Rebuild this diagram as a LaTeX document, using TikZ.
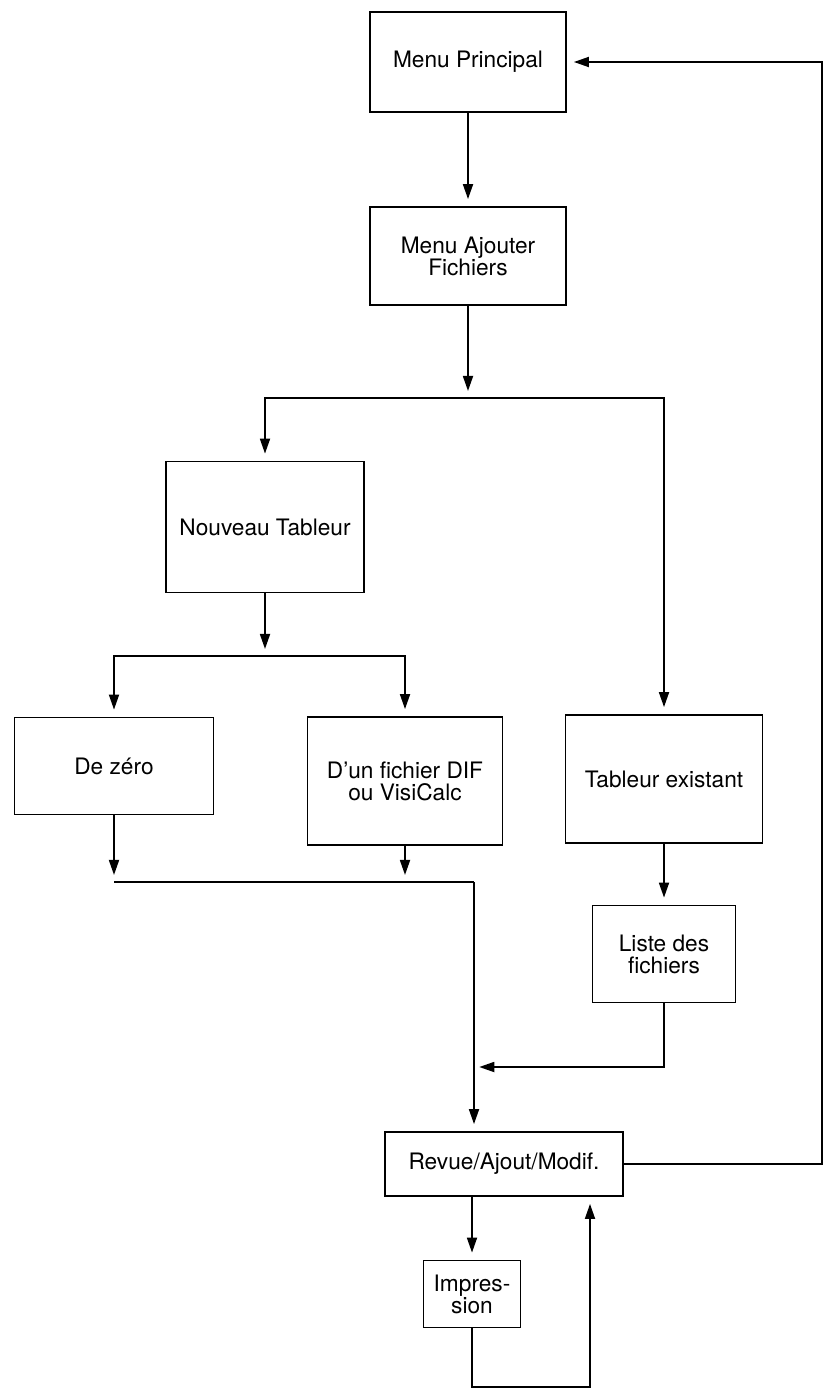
\documentclass[tikz,border=0pt]{standalone}
\usepackage{fontspec}
\setmainfont{TeX Gyre Heros}
\usetikzlibrary{arrows.meta}
\begin{document}
\begin{tikzpicture}[x=0.02cm,y=-0.02cm,line width=1pt,
    box/.style={draw,align=center,inner sep=2pt,font=\fontsize{12.9}{12.5}\selectfont},
    arr/.style={-{Triangle[length=0.3cm,width=0.2cm]},shorten >=4pt}]
  \useasboundingbox (0,0) rectangle (823,1389);
  \node[box,minimum width=3.92cm,minimum height=2cm]    (mp)  at (468,62)   {Menu Principal};
  \node[box,minimum width=3.92cm,minimum height=1.96cm] (maf) at (468,256)  {Menu Ajouter\\Fichiers};
  \node[box,minimum width=3.96cm,minimum height=2.62cm] (nt)  at (265,527)  {Nouveau Tableur};
  \node[box,minimum width=3.98cm,minimum height=1.94cm] (dz)  at (114,766)  {De zéro};
  \node[box,minimum width=3.9cm,minimum height=2.56cm]  (dif) at (405,781)  {D'un fichier DIF\\ou VisiCalc};
  \node[box,minimum width=3.94cm,minimum height=2.56cm] (te)  at (664,779)  {Tableur existant};
  \node[box,minimum width=2.86cm,minimum height=1.94cm] (ldf) at (664,954)  {Liste des\\fichiers};
  \node[box,minimum width=4.76cm,minimum height=1.28cm] (rev) at (504,1164) {Revue/Ajout/Modif.};
  \node[box,minimum width=1.94cm,minimum height=1.34cm] (imp) at (472,1294) {Impres-\\sion};
  \coordinate (s1) at (468,398);
  \coordinate (s2) at (265,656);
  \coordinate (s3) at (474,882);
  \coordinate (s4) at (474,1067);
  \coordinate (s5) at (590,1387);
  \coordinate (ret) at (822,0);
  \draw[arr] (mp) -- (maf);
  \draw[arr] (maf) -- (s1);
  \draw[arr] (s1) -| (nt);
  \draw[arr] (s1) -| (te);
  \draw[arr] (nt) -- (s2);
  \draw[arr] (s2) -| (dz);
  \draw[arr] (s2) -| (dif);
  \draw[arr] (dz) -- (dz |- s3);
  \draw[arr] (dif) -- (dif |- s3);
  \draw (dz |- s3) -- (s3);
  \draw[arr] (s3) -- (s3 |- rev.north);
  \draw[arr] (te) -- (ldf);
  \draw[arr,shorten >=3pt] (ldf) |- (s4);
  \draw[arr] (rev.east) -- (rev.east -| ret) |- (mp.east);
  \draw[arr] (imp |- rev.south) -- (imp);
  \draw[arr] (imp) |- (s5) -- (s5 |- rev.south);
\end{tikzpicture}
\end{document}
